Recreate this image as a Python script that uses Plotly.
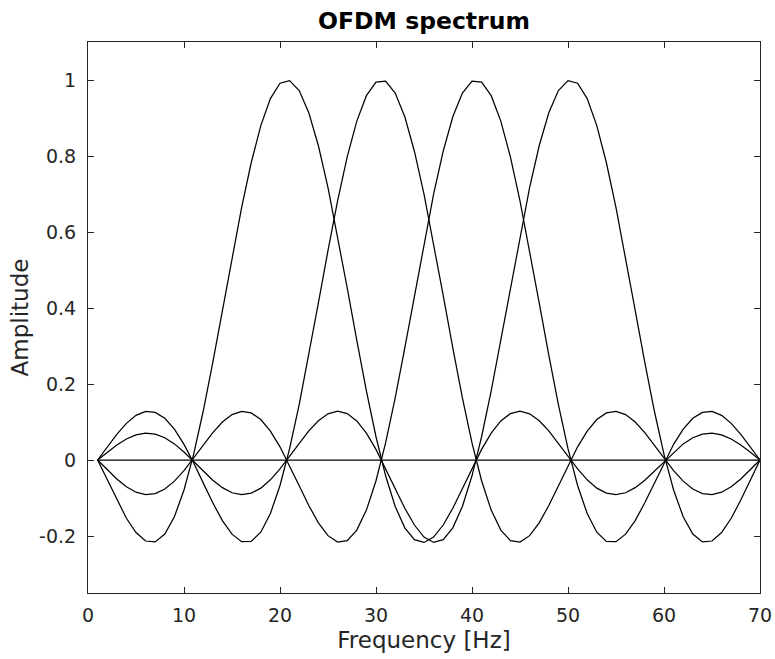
import plotly.graph_objects as go

# Frequency samples (x axis)
freq = list(range(1, 71))

# Sub-carrier spectra
carrier_1 = [0, -0.0525, -0.1054, -0.1534, -0.1910, -0.2132, -0.2156, -0.1949, -0.1494, -0.0790,
             0.0147, 0.1283, 0.2567, 0.3937, 0.5320, 0.6640, 0.7822, 0.8799, 0.9510, 0.9914,
             0.9984, 0.9723, 0.9138, 0.8270, 0.7168, 0.5898, 0.4532, 0.3147, 0.1818, 0.0612,
             -0.0416, -0.1222, -0.1785, -0.2097, -0.2169, -0.2027, -0.1711, -0.1269, -0.0755, -0.0222,
             0.0280, 0.0708, 0.1029, 0.1223, 0.1284, 0.1215, 0.1034, 0.0766, 0.0442, 0.0097,
             -0.0234, -0.0521, -0.0740, -0.0873, -0.0913, -0.0862, -0.0728, -0.0531, -0.0292, -0.0036,
             0.0210, 0.0424, 0.0586, 0.0683, 0.0708, 0.0663, 0.0554, 0.0395, 0.0204, 0]

carrier_2 = [0, 0.0344, 0.0677, 0.0965, 0.1174, 0.1277, 0.1254, 0.1098, 0.0812, 0.0412,
             -0.0073, -0.0602, -0.1127, -0.1595, -0.1952, -0.2148, -0.2141, -0.1900, -0.1409, -0.0670,
             0.0298, 0.1458, 0.2759, 0.4135, 0.5514, 0.6819, 0.7976, 0.8917, 0.9588, 0.9943,
             0.9972, 0.9658, 0.9031, 0.8126, 0.6995, 0.5707, 0.4334, 0.2952, 0.1637, 0.0453,
             -0.0545, -0.1318, -0.1845, -0.2121, -0.2161, -0.1991, -0.1654, -0.1198, -0.0678, -0.0147,
             0.0347, 0.0761, 0.1065, 0.1240, 0.1281, 0.1195, 0.1000, 0.0722, 0.0393, 0.0049,
             -0.0278, -0.0557, -0.0764, -0.0884, -0.0911, -0.0847, -0.0704, -0.0499, -0.0256, 0]

carrier_3 = [0, -0.0256, -0.0499, -0.0704, -0.0847, -0.0911, -0.0884, -0.0764, -0.0557, -0.0278,
             0.0049, 0.0393, 0.0722, 0.1000, 0.1195, 0.1281, 0.1240, 0.1065, 0.0761, 0.0347,
             -0.0147, -0.0678, -0.1198, -0.1654, -0.1991, -0.2161, -0.2121, -0.1845, -0.1318, -0.0545,
             0.0453, 0.1637, 0.2952, 0.4334, 0.5707, 0.6995, 0.8126, 0.9031, 0.9658, 0.9972,
             0.9943, 0.9588, 0.8917, 0.7976, 0.6819, 0.5514, 0.4135, 0.2759, 0.1458, 0.0298,
             -0.0670, -0.1409, -0.1900, -0.2141, -0.2148, -0.1952, -0.1595, -0.1127, -0.0602, -0.0073,
             0.0412, 0.0812, 0.1098, 0.1254, 0.1277, 0.1174, 0.0965, 0.0677, 0.0344, 0]

carrier_4 = [0, 0.0204, 0.0395, 0.0554, 0.0663, 0.0708, 0.0683, 0.0586, 0.0424, 0.0210,
             -0.0036, -0.0292, -0.0531, -0.0728, -0.0862, -0.0913, -0.0873, -0.0740, -0.0521, -0.0234,
             0.0097, 0.0442, 0.0766, 0.1034, 0.1215, 0.1284, 0.1223, 0.1029, 0.0708, 0.0280,
             -0.0222, -0.0755, -0.1269, -0.1711, -0.2027, -0.2169, -0.2097, -0.1785, -0.1222, -0.0416,
             0.0612, 0.1818, 0.3147, 0.4532, 0.5898, 0.7168, 0.8270, 0.9138, 0.9723, 0.9984,
             0.9914, 0.9510, 0.8799, 0.7822, 0.6640, 0.5320, 0.3937, 0.2567, 0.1283, 0.0147,
             -0.0790, -0.1494, -0.1949, -0.2156, -0.2132, -0.1910, -0.1534, -0.1054, -0.0525, 0]

zero_level = [0] * len(freq)

x_ticks = [0, 10, 20, 30, 40, 50, 60, 70]
y_ticks = [-0.2, 0, 0.2, 0.4, 0.6, 0.8, 1]
y_tick_labels = ["-0.2", "0", "0.2", "0.4", "0.6", "0.8", "1"]

FONT = "DejaVu Sans"
AXC = "#262626"

fig = go.Figure()
for ys in [carrier_1, carrier_2, carrier_3, carrier_4, zero_level]:
    fig.add_trace(go.Scatter(x=freq, y=ys, mode="lines",
                             line=dict(color="black", width=1.25),
                             showlegend=False, hoverinfo="skip"))

fig.update_layout(
    width=775, height=659,
    margin=dict(l=88, r=15, t=42, b=66, autoexpand=False),
    paper_bgcolor="white", plot_bgcolor="white",
    font=dict(family=FONT, color=AXC),
    title=dict(text="OFDM spectrum", x=0.5, xref="paper", xanchor="center",
               y=1 - 21 / 659, yref="container", yanchor="middle",
               font=dict(family=FONT, size=23.5, color="black", weight="bold")),
    xaxis=dict(range=[0, 70], tickmode="array", tickvals=x_ticks,
               ticks="inside", ticklen=6, tickcolor=AXC, tickwidth=1,
               showline=True, linecolor=AXC, linewidth=1, mirror="ticks",
               showgrid=False, zeroline=False, automargin=False,
               tickfont=dict(family=FONT, size=19, color=AXC),
               ticklabelstandoff=5,
               title=dict(text="Frequency [Hz]", standoff=7,
                          font=dict(family=FONT, size=23, color=AXC))),
    yaxis=dict(range=[-0.35, 1.1], tickmode="array", tickvals=y_ticks,
               ticktext=y_tick_labels,
               ticks="inside", ticklen=6, tickcolor=AXC, tickwidth=1,
               showline=True, linecolor=AXC, linewidth=1, mirror="ticks",
               showgrid=False, zeroline=False, automargin=False,
               tickfont=dict(family=FONT, size=19, color=AXC),
               ticklabelstandoff=7,
               title=dict(text="Amplitude", standoff=4,
                          font=dict(family=FONT, size=23, color=AXC))),
)

fig.write_html("out.html",
               config={"displayModeBar": False},
               post_script="document.body.style.margin='0';document.body.style.padding='0';")
